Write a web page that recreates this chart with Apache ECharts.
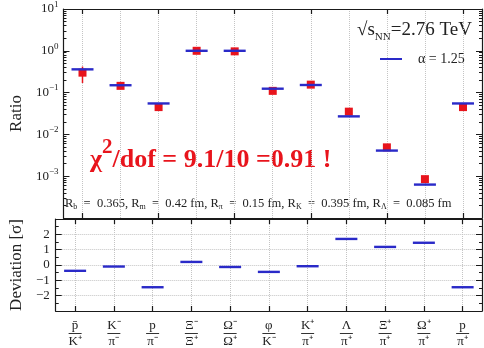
<!DOCTYPE html>
<html><head><meta charset="utf-8">
<script src="https://cdn.jsdelivr.net/npm/echarts@6/dist/echarts.min.js"></script>
<style>html,body{margin:0;padding:0;background:#fff}#c{width:484px;height:348px}</style>
</head><body><div id="c"></div>
<script>
// ---- data ----
const categories = ['p̄/K⁺','K⁻/π⁻','p/π⁻','Ξ⁻/Ξ⁺','Ω⁻/Ω⁺','φ/K⁻','K⁺/π⁺','Λ/π⁺','Ξ⁺/π⁺','Ω⁺/π⁺','p/π⁺'];
const numerators   = ['p̄','K⁻','p','Ξ⁻','Ω⁻','φ','K⁺','Λ','Ξ⁺','Ω⁺','p'];
const denominators = ['K⁺','π⁻','π⁻','Ξ⁺','Ω⁺','K⁻','π⁺','π⁺','π⁺','π⁺','π⁺'];
const modelRatio   = [0.36, 0.150, 0.055, 1.0, 1.0, 0.124, 0.152, 0.027, 0.0041, 0.00063, 0.055];
const dataRatio    = [0.30, 0.145, 0.045, 1.0, 0.97, 0.110, 0.155, 0.035, 0.0049, 0.00085, 0.045];
const dataErrLow   = [0.17, 0.135, 0.041, 0.93, 0.88, 0.100, 0.145, 0.032, 0.0045, 0.00077, 0.041];
const dataErrHigh  = [0.42, 0.155, 0.049, 1.07, 1.06, 0.120, 0.165, 0.038, 0.0053, 0.00093, 0.049];
const deviation    = [-0.38, -0.10, -1.45, 0.20, -0.13, -0.45, -0.08, 1.70, 1.18, 1.45, -1.45];
const logTickExponents = [1, 0, -1, -2, -3];
const devTickValues = [-2, -1, 0, 1, 2];
const devTickLabels = ['−2', '−1', '0', '1', '2'];
const modelName = 'α = 1.25';

// ---- chart ----
const SERIF = 'Liberation Serif';
const FRAME = '#1a1a1a';
const BLUE = '#2a2ac8';
const RED = '#e8141c';
const chart = echarts.init(document.getElementById('c'));

function catAxis(grid, pos, labels) {
  return {
    type: 'category', gridIndex: grid, position: pos, data: categories,
    boundaryGap: true,
    axisLine: { show: true, onZero: false, lineStyle: { color: FRAME, width: 1.2 } },
    axisTick: { show: true, inside: true, length: 5, alignWithLabel: true, lineStyle: { color: FRAME, width: 1.2 } },
    axisLabel: labels ? {
      show: true, interval: 0, margin: 9,
      formatter: (v, i) => `{n|${numerators[i]}}\n{bar| }\n{d|${denominators[i]}}`,
      rich: {
        n: { fontFamily: SERIF, fontSize: 13, color: '#222', lineHeight: 12, align: 'center' },
        bar: { width: 13, height: 1, lineHeight: 3, backgroundColor: '#333', fontSize: 1, align: 'center' },
        d: { fontFamily: SERIF, fontSize: 13, color: '#222', lineHeight: 13, align: 'center' }
      }
    } : { show: false },
    splitLine: { show: false }
  };
}
function logAxis(pos, labels) {
  return {
    type: 'log', logBase: 10, gridIndex: 0, position: pos, min: 1e-4, max: 10,
    axisLine: { show: true, lineStyle: { color: FRAME, width: 1.2 } },
    axisTick: { show: true, inside: true, length: 6, lineStyle: { color: FRAME } },
    minorTick: { show: true, splitNumber: 9, length: 3, lineStyle: { color: FRAME } },
    splitLine: { show: false },
    name: labels ? 'Ratio' : '', nameLocation: 'middle', nameGap: 30, nameRotate: 90,
    nameTextStyle: { fontFamily: SERIF, fontSize: 17, color: '#222' },
    axisLabel: labels ? {
      show: true, margin: 5,
      formatter: v => {
        const e = Math.round(Math.log10(v));
        return logTickExponents.indexOf(e) >= 0 ? `{b|10}{e|${e < 0 ? '−' + (-e) : e}}` : '';
      },
      rich: {
        b: { fontFamily: SERIF, fontSize: 13, color: '#222', lineHeight: 18 },
        e: { fontFamily: SERIF, fontSize: 9, color: '#222', verticalAlign: 'top' }
      }
    } : { show: false }
  };
}
function devAxis(pos, labels) {
  return {
    type: 'value', gridIndex: 1, position: pos, min: -3, max: 3, interval: 1,
    axisLine: { show: true, onZero: false, lineStyle: { color: FRAME, width: 1.2 } },
    axisTick: { show: true, inside: true, length: 6, lineStyle: { color: FRAME } },
    minorTick: { show: true, splitNumber: 2, length: 3, lineStyle: { color: FRAME } },
    splitLine: { show: labels, lineStyle: { type: 'dotted', color: '#c4c4c4' } },
    name: labels ? 'Deviation [σ]' : '', nameLocation: 'middle', nameGap: 25, nameRotate: 90,
    nameTextStyle: { fontFamily: SERIF, fontSize: 17, color: '#222' },
    axisLabel: labels ? {
      show: true, margin: 6, fontFamily: SERIF, fontSize: 13, color: '#222',
      formatter: v => { const k = devTickValues.indexOf(v); return k >= 0 ? devTickLabels[k] : ''; }
    } : { show: false }
  };
}
const vLines = {
  silent: true, symbol: 'none', label: { show: false }, animation: false, z: 0,
  lineStyle: { type: 'dotted', color: '#c4c4c4', width: 1 },
  data: categories.map((c, i) => ({ xAxis: i }))
};

chart.setOption({
  animation: false,
  backgroundColor: '#fff',
  grid: [
    { left: 52, width: 430, top: 9, height: 209, show: false },
    { left: 52, width: 430, top: 219, height: 92, show: false }
  ],
  xAxis: [catAxis(0, 'bottom', false), catAxis(0, 'top', false), catAxis(1, 'bottom', true), catAxis(1, 'top', false)],
  yAxis: [logAxis('left', true), logAxis('right', false), devAxis('left', true), devAxis('right', false)],
  legend: {
    data: [{ name: modelName, icon: 'rect' }], left: 375, top: 47,
    itemWidth: 22, itemHeight: 2, selectedMode: false,
    textStyle: { fontFamily: SERIF, fontSize: 14, color: '#222', padding: [0, 0, 0, 11] }
  },
  graphic: [
    { type: 'text', left: 357, top: 21, style: {
      text: '√s{sub|NN}=2.76 TeV', fill: '#222', font: '19px "Liberation Serif"',
      rich: { sub: { fontFamily: SERIF, fontSize: 11, verticalAlign: 'bottom', lineHeight: 24, fill: '#222' } } } },
    { type: 'text', left: 90, top: 137, style: {
      text: '{b|χ}{s|2}{b|/dof = 9.1/10 =0.91 !}', fill: RED,
      rich: {
        b: { fontFamily: SERIF, fontWeight: 'bold', fontSize: 26, fill: RED, lineHeight: 36, verticalAlign: 'bottom' },
        s: { fontFamily: SERIF, fontWeight: 'bold', fontSize: 21, fill: RED, verticalAlign: 'top' } } } },
    { type: 'text', left: 65, top: 197, style: {
      text: 'R{s|b}  =  0.365, R{s|m}  =  0.42 fm, R{s|π}  =  0.15 fm, R{s|K}  =  0.395 fm, R{s|Λ}  =  0.085 fm',
      fill: '#222', font: '12.5px "Liberation Serif"',
      rich: { s: { fontFamily: SERIF, fontSize: 8, verticalAlign: 'bottom', lineHeight: 15, fill: '#222' } } } }
  ],
  series: [
    {
      name: 'grid', type: 'scatter', xAxisIndex: 0, yAxisIndex: 0, z: 0,
      symbolSize: 0, data: modelRatio, silent: true, markLine: vLines
    },
    {
      type: 'custom', xAxisIndex: 0, yAxisIndex: 0, z: 2,
      data: categories.map((c, i) => [i, dataErrLow[i], dataErrHigh[i]]),
      renderItem: (params, api) => {
        const p1 = api.coord([api.value(0), api.value(1)]);
        const p2 = api.coord([api.value(0), api.value(2)]);
        return { type: 'line', shape: { x1: p1[0], y1: p1[1], x2: p2[0], y2: p2[1] }, style: { stroke: RED, lineWidth: 1.5 } };
      }
    },
    {
      name: 'data', type: 'scatter', xAxisIndex: 0, yAxisIndex: 0, z: 3,
      symbol: 'rect', symbolSize: 8, itemStyle: { color: RED, opacity: 1 },
      data: dataRatio
    },
    {
      name: modelName, type: 'scatter', xAxisIndex: 0, yAxisIndex: 0, z: 4,
      symbol: 'rect', symbolSize: [22, 2.4], itemStyle: { color: BLUE, opacity: 1 },
      data: modelRatio
    },
    {
      name: 'devgrid', type: 'scatter', xAxisIndex: 2, yAxisIndex: 2, z: 0,
      symbolSize: 0, data: deviation, silent: true, markLine: vLines
    },
    {
      name: 'deviation', type: 'scatter', xAxisIndex: 2, yAxisIndex: 2, z: 4,
      symbol: 'rect', symbolSize: [22, 2.4], itemStyle: { color: BLUE, opacity: 1 },
      data: deviation
    }
  ]
});
</script></body></html>
